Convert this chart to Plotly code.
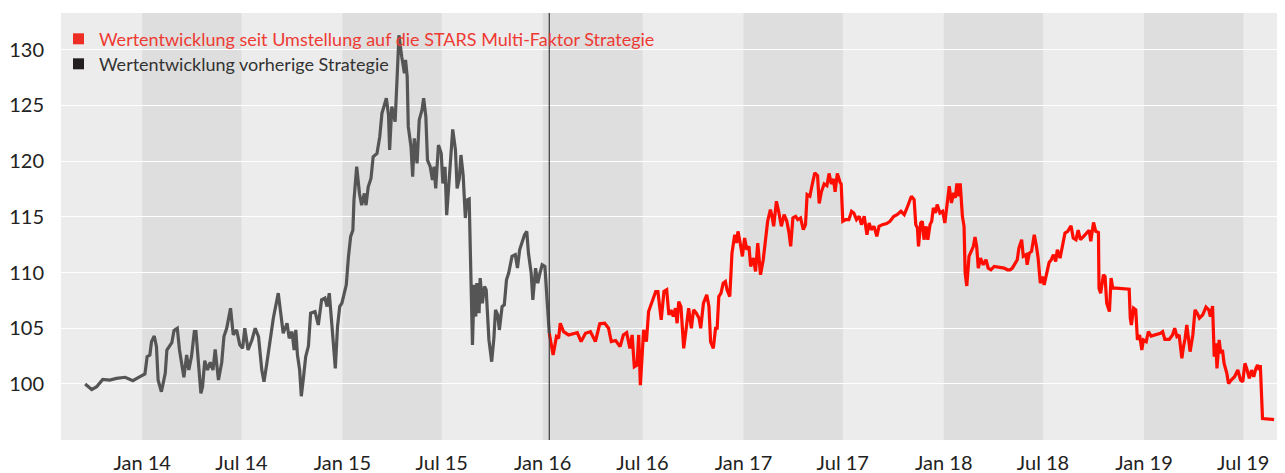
import plotly.graph_objects as go

# ---------------- data ----------------
gray_dates = [
    "2013-09-19", "2013-10-01", "2013-10-10", "2013-10-21", "2013-11-03", "2013-11-15", "2013-12-01", "2013-12-15", "2013-12-28",
    "2014-01-06", "2014-01-10", "2014-01-15", "2014-01-18", "2014-01-23", "2014-01-27", "2014-01-30",
    "2014-02-05", "2014-02-12", "2014-02-15", "2014-02-24", "2014-02-28",
    "2014-03-06", "2014-03-10", "2014-03-18", "2014-03-23", "2014-03-27",
    "2014-04-01", "2014-04-06", "2014-04-09", "2014-04-13", "2014-04-18", "2014-04-21", "2014-04-25", "2014-04-30",
    "2014-05-05", "2014-05-10", "2014-05-14", "2014-05-20", "2014-05-26", "2014-05-30",
    "2014-06-04", "2014-06-11", "2014-06-16", "2014-06-22", "2014-06-28",
    "2014-07-03", "2014-07-07", "2014-07-13", "2014-07-20", "2014-07-26",
    "2014-08-01", "2014-08-07", "2014-08-11", "2014-08-16", "2014-08-22", "2014-08-28",
    "2014-09-06", "2014-09-11", "2014-09-15", "2014-09-22", "2014-09-26",
    "2014-10-01", "2014-10-05", "2014-10-08", "2014-10-11", "2014-10-15", "2014-10-18", "2014-10-22", "2014-10-26", "2014-10-31",
    "2014-11-04", "2014-11-12", "2014-11-18", "2014-11-24", "2014-11-30",
    "2014-12-04", "2014-12-08", "2014-12-13", "2014-12-19", "2014-12-23", "2014-12-27", "2014-12-31",
    "2015-01-03", "2015-01-08", "2015-01-12", "2015-01-16", "2015-01-20", "2015-01-22", "2015-01-27",
    "2015-02-01", "2015-02-05", "2015-02-10", "2015-02-13", "2015-02-17", "2015-02-22", "2015-02-26",
    "2015-03-05", "2015-03-10", "2015-03-14", "2015-03-22", "2015-03-26", "2015-03-28",
    "2015-04-01", "2015-04-07", "2015-04-11", "2015-04-14", "2015-04-19", "2015-04-24", "2015-04-26", "2015-04-29",
    "2015-05-01", "2015-05-06", "2015-05-09", "2015-05-12", "2015-05-17", "2015-05-21", "2015-05-26", "2015-05-29",
    "2015-06-02", "2015-06-05", "2015-06-10", "2015-06-14", "2015-06-17", "2015-06-20", "2015-06-25", "2015-06-30",
    "2015-07-03", "2015-07-07", "2015-07-10", "2015-07-13", "2015-07-18", "2015-07-21", "2015-07-26", "2015-07-29",
    "2015-08-02", "2015-08-05", "2015-08-09", "2015-08-13", "2015-08-16", "2015-08-20", "2015-08-23", "2015-08-26", "2015-08-29",
    "2015-09-01", "2015-09-03", "2015-09-07", "2015-09-09", "2015-09-13", "2015-09-17", "2015-09-20", "2015-09-25", "2015-09-30",
    "2015-10-04", "2015-10-07", "2015-10-11", "2015-10-14", "2015-10-19", "2015-10-23", "2015-10-27", "2015-10-31",
    "2015-11-06", "2015-11-12", "2015-11-16", "2015-11-20", "2015-11-24", "2015-11-29",
    "2015-12-03", "2015-12-06", "2015-12-11", "2015-12-14", "2015-12-19", "2015-12-23", "2015-12-27", "2015-12-31",
    "2016-01-05", "2016-01-09", "2016-01-11", "2016-01-13",
]
gray_values = [
    100.0, 99.5, 99.75, 100.4, 100.35, 100.5, 100.6, 100.3, 100.65,
    100.9, 102.45, 102.6, 103.8, 104.3, 103.35, 100.35,
    99.3, 100.95, 103.05, 103.7, 104.8,
    105.0, 103.05, 100.6, 102.6, 101.25,
    102.5, 104.7, 104.7, 102.1, 99.15, 99.75, 102.1, 101.25,
    101.95, 101.25, 103.1, 100.35, 101.95, 104.25,
    105.0, 106.8, 104.4, 104.85, 103.5,
    103.2, 105.0, 103.05, 103.95, 105.0,
    104.25, 101.25, 100.2, 101.8, 104.1, 105.9,
    108.15, 106.35, 104.55, 105.45, 104.1,
    104.7, 103.05, 104.85, 102.6, 101.25, 98.9, 100.6, 102.45, 103.4,
    106.35, 106.5, 105.3, 107.55, 107.7,
    106.95, 108.15, 105.15, 101.4, 105.15, 106.95, 107.25,
    107.85, 108.9, 111.45, 113.25, 113.8, 116.5, 119.5,
    117.1, 116.05, 117.1, 116.05, 117.7, 118.45, 120.4,
    120.7, 122.2, 124.3, 125.65, 124.15, 121.0,
    124.9, 123.55, 127.9, 131.3, 129.4, 127.9, 129.1, 127.6,
    123.1, 121.3, 118.6, 122.05, 119.8, 123.7, 124.6, 125.65,
    124.0, 120.1, 119.5, 118.3, 119.5, 117.55, 121.45, 120.7,
    118.0, 119.5, 115.15, 117.4, 121.3, 122.85, 121.0, 117.55,
    118.45, 120.55, 118.75, 114.9, 116.5, 116.6, 109.95, 103.5, 108.9,
    106.05, 109.05, 106.35, 109.5, 107.25, 108.75, 108.45, 103.95, 102.0,
    104.1, 106.65, 106.2, 104.85, 106.95, 107.1, 109.35, 109.95,
    111.45, 111.6, 110.4, 112.05, 112.65, 113.4,
    113.7, 111.75, 109.95, 107.55, 110.4, 109.05, 109.95, 110.7,
    110.55, 107.85, 105.75, 104.55,
]

red_dates = [
    "2016-01-13", "2016-01-20", "2016-01-26", "2016-01-30", "2016-02-02", "2016-02-08", "2016-02-17",
    "2016-03-04", "2016-03-11", "2016-03-19", "2016-03-28",
    "2016-04-06", "2016-04-14", "2016-04-23", "2016-04-30", "2016-05-05", "2016-05-13", "2016-05-21", "2016-05-27",
    "2016-06-02", "2016-06-08", "2016-06-12", "2016-06-16", "2016-06-21", "2016-06-24", "2016-06-27",
    "2016-07-03", "2016-07-08", "2016-07-12", "2016-07-18", "2016-07-25", "2016-07-29",
    "2016-08-01", "2016-08-04", "2016-08-09", "2016-08-14", "2016-08-18", "2016-08-22", "2016-08-26", "2016-08-30",
    "2016-09-02", "2016-09-05", "2016-09-09", "2016-09-14", "2016-09-19", "2016-09-23", "2016-09-28",
    "2016-10-02", "2016-10-07", "2016-10-12", "2016-10-15", "2016-10-20", "2016-10-26", "2016-10-30",
    "2016-11-02", "2016-11-07", "2016-11-11", "2016-11-14", "2016-11-17", "2016-11-21", "2016-11-25", "2016-11-29",
    "2016-12-02", "2016-12-07", "2016-12-11", "2016-12-16", "2016-12-19", "2016-12-22", "2016-12-27", "2016-12-30",
    "2017-01-03", "2017-01-07", "2017-01-11", "2017-01-14", "2017-01-19", "2017-01-23", "2017-01-27",
    "2017-02-01", "2017-02-06", "2017-02-10", "2017-02-14", "2017-02-19", "2017-02-22", "2017-02-25",
    "2017-03-02", "2017-03-06", "2017-03-11", "2017-03-16", "2017-03-21", "2017-03-25", "2017-03-28",
    "2017-04-01", "2017-04-06", "2017-04-10", "2017-04-15", "2017-04-20", "2017-04-24", "2017-04-27",
    "2017-05-02", "2017-05-06", "2017-05-11", "2017-05-16", "2017-05-19", "2017-05-23", "2017-05-28",
    "2017-06-02", "2017-06-06", "2017-06-10", "2017-06-14", "2017-06-17", "2017-06-21", "2017-06-26", "2017-06-28",
    "2017-07-01", "2017-07-06", "2017-07-12", "2017-07-17", "2017-07-21", "2017-07-26", "2017-07-31",
    "2017-08-04", "2017-08-09", "2017-08-14", "2017-08-18", "2017-08-22", "2017-08-27",
    "2017-09-01", "2017-09-05", "2017-09-11", "2017-09-19", "2017-09-25",
    "2017-10-02", "2017-10-08", "2017-10-15", "2017-10-21", "2017-10-26", "2017-10-30",
    "2017-11-03", "2017-11-08", "2017-11-11", "2017-11-14", "2017-11-16", "2017-11-20", "2017-11-23", "2017-11-26", "2017-11-30",
    "2017-12-03", "2017-12-07", "2017-12-10", "2017-12-13", "2017-12-17", "2017-12-20", "2017-12-25", "2017-12-30",
    "2018-01-03", "2018-01-06", "2018-01-11", "2018-01-15", "2018-01-19", "2018-01-22", "2018-01-25", "2018-01-28", "2018-01-31",
    "2018-02-04", "2018-02-07", "2018-02-09", "2018-02-12", "2018-02-16", "2018-02-21", "2018-02-24", "2018-02-27",
    "2018-03-02", "2018-03-05", "2018-03-09", "2018-03-14", "2018-03-19", "2018-03-23", "2018-03-28",
    "2018-04-03", "2018-04-12", "2018-04-21", "2018-04-27",
    "2018-05-02", "2018-05-06", "2018-05-11", "2018-05-15", "2018-05-18", "2018-05-23", "2018-05-26", "2018-05-31",
    "2018-06-02", "2018-06-06", "2018-06-10", "2018-06-15", "2018-06-19", "2018-06-22", "2018-06-26", "2018-06-30",
    "2018-07-03", "2018-07-08", "2018-07-12", "2018-07-16", "2018-07-20", "2018-07-24", "2018-07-27",
    "2018-08-01", "2018-08-06", "2018-08-10", "2018-08-15", "2018-08-21", "2018-08-25", "2018-08-30",
    "2018-09-03", "2018-09-07", "2018-09-13", "2018-09-19", "2018-09-23", "2018-09-26",
    "2018-10-01", "2018-10-05", "2018-10-10", "2018-10-11", "2018-10-14", "2018-10-19", "2018-10-22", "2018-10-25", "2018-10-30",
    "2018-11-02", "2018-11-05", "2018-11-11", "2018-11-23",
    "2018-12-05", "2018-12-07", "2018-12-09", "2018-12-13", "2018-12-17", "2018-12-20", "2018-12-24", "2018-12-28", "2018-12-31",
    "2019-01-05", "2019-01-09", "2019-01-14", "2019-01-23", "2019-01-31",
    "2019-02-04", "2019-02-08", "2019-02-16", "2019-02-22", "2019-02-26",
    "2019-03-02", "2019-03-06", "2019-03-11", "2019-03-14", "2019-03-17", "2019-03-20", "2019-03-23", "2019-03-26", "2019-03-31",
    "2019-04-04", "2019-04-08", "2019-04-12", "2019-04-18", "2019-04-24", "2019-04-29",
    "2019-05-02", "2019-05-06", "2019-05-09", "2019-05-12", "2019-05-14", "2019-05-18", "2019-05-21", "2019-05-24", "2019-05-27",
    "2019-06-01", "2019-06-04", "2019-06-09", "2019-06-15", "2019-06-21", "2019-06-26", "2019-06-30",
    "2019-07-04", "2019-07-08", "2019-07-12", "2019-07-16", "2019-07-20", "2019-07-24", "2019-07-27", "2019-07-30",
    "2019-08-01", "2019-08-05", "2019-08-14", "2019-08-26",
]
red_values = [
    104.55, 102.6, 104.25, 104.1, 105.45, 104.7, 104.4,
    104.6, 103.8, 104.55, 104.7,
    103.8, 105.4, 105.45, 105.0, 103.8, 103.9, 103.35, 104.4,
    104.6, 103.2, 104.4, 101.55, 101.7, 104.4, 99.9,
    104.85, 103.8, 106.5, 107.25, 108.3, 108.3,
    107.1, 105.75, 108.3, 108.45, 106.2, 106.65, 106.05, 106.8,
    105.45, 107.4, 106.95, 103.2, 105.15, 106.8, 105.0,
    106.65, 106.35, 105.9, 105.0, 107.25, 108.0, 106.95,
    103.8, 103.2, 105.0, 105.0, 107.85, 108.15, 109.05, 109.2,
    108.45, 107.85, 111.75, 113.4, 112.65, 113.7, 112.35, 111.45,
    113.1, 112.05, 112.35, 110.55, 111.3, 110.1, 112.65,
    109.8, 111.15, 112.8, 114.6, 115.65, 115.05, 114.15,
    116.4, 115.5, 114.15, 115.2, 114.6, 113.55, 112.35,
    114.9, 115.05, 114.75, 114.9, 113.85, 114.3, 117.0,
    116.85, 117.85, 118.95, 118.7, 116.2, 117.25, 117.95,
    117.8, 118.9, 117.95, 118.4, 117.25, 118.9, 118.1, 117.95,
    114.6, 114.75, 114.75, 115.5, 115.35, 114.75, 115.05,
    114.3, 115.05, 113.4, 114.45, 113.85, 114.15,
    113.25, 114.15, 114.3, 114.4, 114.6,
    115.05, 115.2, 115.5, 115.2, 115.8, 116.4,
    116.85, 116.55, 114.3, 114.0, 112.35, 114.45, 114.6, 112.95, 114.15,
    112.95, 114.3, 114.6, 115.8, 115.35, 116.1, 115.35, 115.5,
    114.45, 115.8, 117.75, 116.25, 117.15, 116.7, 118.0, 116.85, 118.0,
    115.05, 114.15, 109.95, 108.8, 111.45, 112.05, 112.35, 113.2,
    112.35, 110.4, 111.3, 110.7, 111.15, 110.4, 110.25,
    110.55, 110.5, 110.4, 110.25,
    110.25, 110.4, 110.85, 111.15, 112.2, 112.95, 111.45, 111.6,
    110.7, 111.75, 111.9, 113.4, 112.35, 111.3, 109.05, 109.65,
    108.9, 109.9, 110.9, 111.15, 111.6, 111.0, 112.05,
    111.3, 112.5, 113.55, 113.7, 114.2, 113.1, 112.95,
    113.8, 112.95, 113.25, 113.55, 113.8, 112.8,
    114.5, 113.7, 113.6, 108.6, 108.15, 109.8, 109.65, 107.25, 106.5,
    109.5, 108.6, 108.6, 108.55,
    108.5, 105.9, 105.3, 106.8, 106.65, 103.95, 104.4, 103.05, 103.95,
    103.8, 104.7, 104.3, 104.4, 104.55,
    104.7, 104.0, 104.0, 104.4, 105.0,
    104.25, 104.4, 102.3, 103.35, 104.1, 105.3, 104.25, 102.9, 104.4,
    106.65, 106.35, 105.9, 106.2, 106.9, 106.65,
    106.05, 107.0, 102.45, 103.65, 101.4, 103.95, 102.75, 103.05, 101.85,
    100.95, 100.05, 100.35, 100.65, 101.25, 100.35, 100.2,
    101.85, 101.25, 100.5, 101.25, 100.65, 101.4, 101.7, 101.25,
    101.7, 96.9, 96.85, 96.8,
]
assert len(gray_dates) == len(gray_values), (len(gray_dates), len(gray_values))
assert len(red_dates) == len(red_values), (len(red_dates), len(red_values))

series_names = [
    "Wertentwicklung seit Umstellung auf die STARS Multi-Faktor Strategie",
    "Wertentwicklung vorherige Strategie",
]
switch_date = "2016-01-13"
band_years = [2014, 2015, 2016, 2017, 2018, 2019]
x_ticks = ["2014-01-01", "2014-07-01", "2015-01-01", "2015-07-01", "2016-01-01", "2016-07-01",
           "2017-01-01", "2017-07-01", "2018-01-01", "2018-07-01", "2019-01-01", "2019-07-01"]
y_ticks = [100, 105, 110, 115, 120, 125, 130]

RED = "#ff0d00"
GRAY = "#555555"
FONT = "Lato"

fig = go.Figure()
fig.add_trace(go.Scatter(x=gray_dates, y=gray_values, mode="lines",
                         line=dict(color=GRAY, width=3.2), showlegend=False, hoverinfo="skip"))
fig.add_trace(go.Scatter(x=red_dates, y=red_values, mode="lines",
                         line=dict(color=RED, width=3.2), showlegend=False, hoverinfo="skip"))

shapes = []
for yr in band_years:
    shapes.append(dict(type="rect", xref="x", yref="paper", x0=f"{yr}-01-01", x1=f"{yr}-07-01",
                       y0=0, y1=1, fillcolor="#dedede", line=dict(width=0), layer="below"))
shapes.append(dict(type="line", xref="x", yref="paper", x0=switch_date, x1=switch_date, y0=0, y1=1,
                   line=dict(color="#3c3c3c", width=1.2), layer="above"))
# legend squares
legend_colors = ["#ee2e24", "#231f20"]
for i, c in enumerate(legend_colors):
    cy = -25.8 - 25 * i
    shapes.append(dict(type="rect", xref="paper", yref="paper", xsizemode="pixel", ysizemode="pixel",
                       xanchor=0, yanchor=1, x0=12, x1=23, y0=cy - 5.5, y1=cy + 5.5,
                       fillcolor=c, line=dict(width=0), layer="above"))

annotations = []
text_colors = ["#ee3a33", "#333333"]
for i, (name, c) in enumerate(zip(series_names, text_colors)):
    annotations.append(dict(xref="paper", yref="paper", x=0, y=1, xanchor="left", yanchor="middle",
                            xshift=36, yshift=-25.8 - 25 * i, text=name, showarrow=False,
                            font=dict(family=FONT, size=18, color=c)))

# the page body adds an 8px offset, so the figure is sized to fit inside the window
fig.update_layout(
    width=1277, height=465,
    margin=dict(l=53, r=0, t=5, b=33, autoexpand=False),
    paper_bgcolor="white", plot_bgcolor="#ececec",
    shapes=shapes, annotations=annotations,
    showlegend=False,
    font=dict(family=FONT, color="#222222"),
)
fig.update_xaxes(type="date", range=["2013-08-06", "2019-09-15"], tickvals=x_ticks, tickformat="%b %y",
                 showgrid=False, zeroline=False, showline=False, automargin=False,
                 ticks="outside", ticklen=5, tickcolor="rgba(0,0,0,0)",
                 tickfont=dict(family=FONT, size=20, color="#222222"))
fig.update_yaxes(range=[94.97, 133.3], tickvals=y_ticks, showgrid=True, gridcolor="white", gridwidth=1.2,
                 zeroline=False, showline=False, automargin=False,
                 ticks="outside", ticklen=12, tickcolor="rgba(0,0,0,0)",
                 tickfont=dict(family=FONT, size=20, color="#222222"))

fig.write_html("out.html")
